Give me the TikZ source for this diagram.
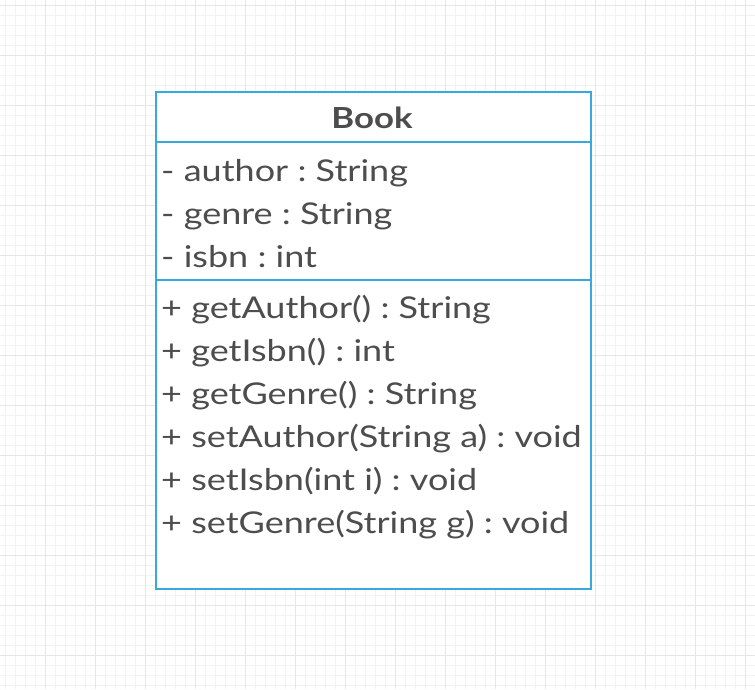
\documentclass[tikz,border=0pt]{standalone}
\usepackage{fontspec}
\setmainfont{Lato}[FakeStretch=1.2]
\definecolor{umlblue}{HTML}{3AA7DD}
\definecolor{txt}{HTML}{4D4D4D}
\definecolor{gridminor}{HTML}{F2F2F2}
\definecolor{gridmajor}{HTML}{E6E6E6}
\begin{document}
\frenchspacing
\begin{tikzpicture}[x=1pt,y=-1pt,
  member/.style={anchor=base west,inner sep=0pt,text=txt,font=\fontsize{30}{35}\selectfont},
  title/.style={anchor=base,inner sep=0pt,text=txt,font=\fontsize{29}{34}\selectfont\bfseries},
  border/.style={draw=umlblue,line width=2pt}]
\useasboundingbox (0,0) rectangle (755,689);
\fill[white] (0,0) rectangle (755,689);
\foreach \i in {0,...,75} {\draw[gridminor,line width=0.8pt] (5+10*\i,0) -- (5+10*\i,689);}
\foreach \i in {0,...,68} {\draw[gridminor,line width=0.8pt] (0,5+10*\i) -- (755,5+10*\i);}
\foreach \i in {0,...,15} {\draw[gridmajor,line width=0.8pt] (45+50*\i,0) -- (45+50*\i,689);}
\foreach \i in {0,...,13} {\draw[gridmajor,line width=0.8pt] (0,5+50*\i) -- (755,5+50*\i);}
\fill[white] (156,92) rectangle (591,589);
\draw[border] (156,92) rectangle (591,589);
\coordinate (hl) at (156,142); \coordinate (hr) at (591,142);
\coordinate (al) at (156,280); \coordinate (ar) at (591,280);
\draw[border] (hl) -- (hr);
\draw[border] (al) -- (ar);
\node[title] (t) at (372,128) {Book};
\node[member] (a1) at (161,181) {- author : String};
\node[member] (a2) at (161,224) {- genre : String};
\node[member] (a3) at (161,267) {- isbn : int};
\node[member] (m1) at (161,318) {+ getAuthor() : String};
\node[member] (m2) at (161,361) {+ getIsbn() : int};
\node[member] (m3) at (161,404) {+ getGenre() : String};
\node[member] (m4) at (161,447) {+ setAuthor(String a) : void};
\node[member] (m5) at (161,490) {+ setIsbn(int i) : void};
\node[member] (m6) at (161,533) {+ setGenre(String g) : void};
\end{tikzpicture}
\end{document}
